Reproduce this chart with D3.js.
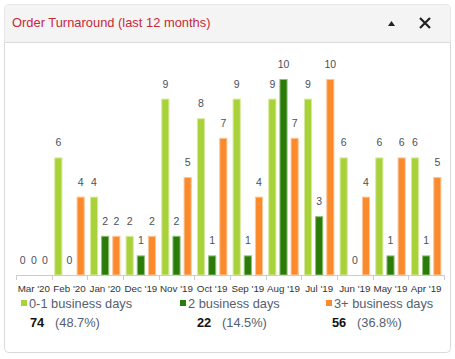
<!DOCTYPE html>
<html><head><meta charset="utf-8">
<script src="https://cdn.jsdelivr.net/npm/d3@7"></script>
<style>
html,body{margin:0;padding:0;background:#fff;}
svg{display:block;}
</style></head>
<body>
<svg id="chart" width="455" height="359"></svg>
<script>
const categories = ["Mar '20","Feb '20","Jan '20","Dec '19","Nov '19","Oct '19","Sep '19","Aug '19","Jul '19","Jun '19","May '19","Apr '19"];
const seriesNames = ["0-1 business days","2 business days","3+ business days"];
const fast = [0,6,4,2,9,8,9,9,9,6,6,6];
const mid = [0,0,2,1,2,1,1,10,3,0,1,1];
const slow = [0,4,2,2,5,7,4,7,10,4,6,5];
const colors = ["#a9d13a","#2a7b07","#fb8a2c"];
const strokes = ["#d6ea9c","#8fbc7a","#fcc69a"];
const title = "Order Turnaround (last 12 months)";

const series = [fast, mid, slow];
const svg = d3.select("#chart");
const FONT = "Liberation Sans, Arial, sans-serif";

// panel
svg.append("rect").attr("x",4.5).attr("y",4.5).attr("width",446).attr("height",348)
  .attr("rx",4).attr("fill","#fff").attr("stroke","#d9d9d9");
svg.append("path").attr("d","M4.5,42.5 V8.5 Q4.5,4.5 8.5,4.5 H446.5 Q450.5,4.5 450.5,8.5 V42.5 Z")
  .attr("fill","#f4f4f4");
svg.append("line").attr("x1",4.5).attr("x2",450.5).attr("y1",42.5).attr("y2",42.5).attr("stroke","#dcdcdc");
svg.append("text").attr("x",12).attr("y",27).text(title)
  .attr("font-family",FONT).attr("font-size",12.9).attr("fill","#c8283a");
svg.append("path").attr("d","M388,26 L391.5,21 L395,26 Z").attr("fill","#222");
svg.append("path").attr("d","M420,18 L430,28 M430,18 L420,28").attr("stroke","#222").attr("stroke-width",2.2);

// scales
const x0 = d3.scaleBand().domain(categories).range([16,444]).paddingInner(0).paddingOuter(0);
const x1 = d3.scaleBand().domain([0,1,2]).range([2.6, x0.bandwidth()-2.6]).paddingInner(0.27).paddingOuter(0);
const y = d3.scaleLinear().domain([0,10]).range([275,79]);

const g = svg.append("g");
categories.forEach((c,i)=>{
  series.forEach((s,k)=>{
    const v = s[i];
    const bx = x0(c)+x1(k);
    if (v>0) {
      g.append("rect").attr("x",bx+0.5).attr("y",y(v)+0.5).attr("width",x1.bandwidth()-1)
        .attr("height",y(0)-y(v)-0.5).attr("fill",colors[k]).attr("stroke",strokes[k]).attr("stroke-width",1);
    }
    g.append("text").attr("x",bx+x1.bandwidth()/2).attr("y",y(v)-11).attr("text-anchor","middle")
      .attr("font-family",FONT).attr("font-size",10.5).attr("fill","#4a4f5a")
      .text(v);
  });
});

// axis
const ax = svg.append("g").attr("transform","translate(0,275)")
  .call(d3.axisBottom(x0).tickSize(0).tickPadding(0));
ax.select(".domain").attr("stroke","#ccc").attr("d","M16,0.5H444");
ax.selectAll(".tick text").attr("font-family",FONT).attr("font-size",9.8).attr("fill","#333").attr("dy",0).attr("y",16.5);
const bounds = categories.map(c=>x0(c)).concat([x0(categories[categories.length-1])+x0.bandwidth()]);
ax.selectAll(".bt").data(bounds).enter().append("line").attr("class","bt")
  .attr("x1",d=>Math.round(d)+0.5).attr("x2",d=>Math.round(d)+0.5).attr("y1",0).attr("y2",5).attr("stroke","#ccc");

// legend
const totals = series.map(s=>d3.sum(s));
const all = d3.sum(totals);
const legX = [21,180,326];
const legTX = [30,197,332];
seriesNames.forEach((n,k)=>{
  svg.append("rect").attr("x",legX[k]).attr("y",300).attr("width",6).attr("height",6).attr("fill",colors[k]);
  svg.append("text").attr("x",legX[k]+8).attr("y",308).text(n)
    .attr("font-family",FONT).attr("font-size",12.8).attr("fill","#556070");
  svg.append("text").attr("x",legTX[k]).attr("y",327).text(totals[k])
    .attr("font-family",FONT).attr("font-size",12.8).attr("font-weight","bold").attr("fill","#111");
  svg.append("text").attr("x",legTX[k]+25).attr("y",327).text("("+(totals[k]/all*100).toFixed(1)+"%)")
    .attr("font-family",FONT).attr("font-size",12.8).attr("fill","#556070");
});
</script>
</body></html>
